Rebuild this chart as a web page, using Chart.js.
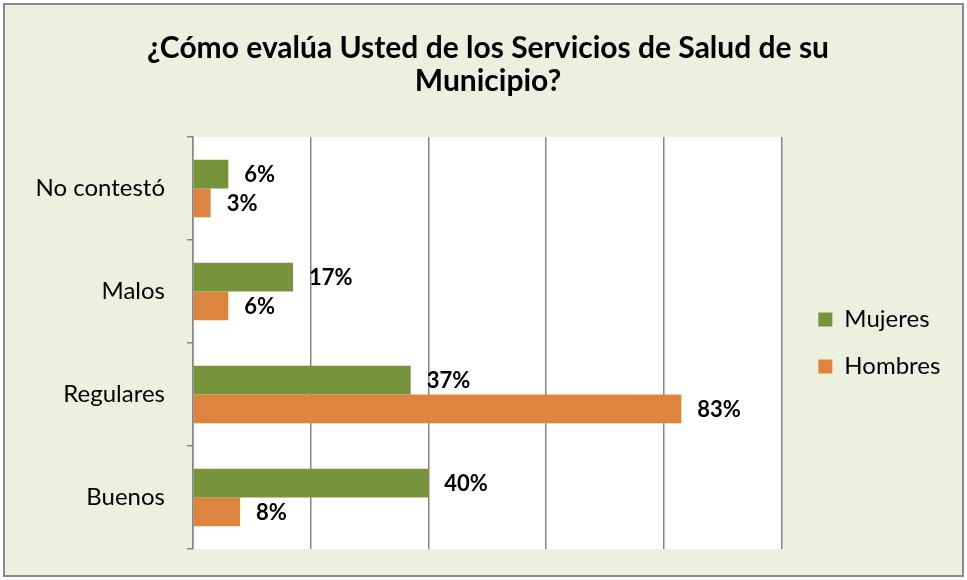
<!DOCTYPE html>
<html>
<head>
<meta charset="utf-8">
<script src="https://cdn.jsdelivr.net/npm/chart.js@4"></script>
<style>
  html, body { margin: 0; padding: 0; background: #fff; }
  #wrap { width: 967px; height: 580px; position: relative; }
</style>
</head>
<body>
<div id="wrap"><canvas id="theChart" width="967" height="580"></canvas></div>
<script>
const categories = ['No contestó', 'Malos', 'Regulares', 'Buenos'];
const mujeres = [6, 17, 37, 40];
const hombres = [3, 6, 83, 8];
const xTicks = [0, 20, 40, 60, 80, 100];

const fontName = 'Lato, "Open Sans", sans-serif';

// beige frame + white plot area
const frame = {
  id: 'frame',
  beforeDraw(chart) {
    const ctx = chart.ctx;
    const a = chart.chartArea;
    ctx.save();
    ctx.fillStyle = '#ffffff';
    ctx.fillRect(0, 0, chart.width, chart.height);
    ctx.fillStyle = '#EBF0DF';
    ctx.fillRect(4, 4, 959, 572);
    ctx.strokeStyle = '#8a8a8a';
    ctx.lineWidth = 2;
    ctx.strokeRect(4, 4, 959, 572);
    ctx.fillStyle = '#ffffff';
    ctx.fillRect(a.left, a.top, a.right - a.left, a.bottom - a.top);
    ctx.restore();
  }
};

// value labels next to the bar ends
const barLabels = {
  id: 'barLabels',
  afterDatasetsDraw(chart) {
    const ctx = chart.ctx;
    ctx.save();
    ctx.font = 'bold 22px ' + fontName;
    ctx.fillStyle = '#000';
    ctx.textAlign = 'left';
    ctx.textBaseline = 'middle';
    chart.data.datasets.forEach((ds, i) => {
      chart.getDatasetMeta(i).data.forEach((bar, j) => {
        ctx.fillText(ds.data[j] + '%', bar.x + 16, bar.y + 1);
      });
    });
    ctx.restore();
  }
};

const chart = document.getElementById('theChart').getContext('2d');
new Chart(chart, {
  type: 'bar',
  data: {
    labels: categories,
    datasets: [
      { label: 'Mujeres', data: mujeres, backgroundColor: '#77933C' },
      { label: 'Hombres', data: hombres, backgroundColor: '#DD843F' }
    ]
  },
  options: {
    indexAxis: 'y',
    responsive: false,
    animation: false,
    categoryPercentage: 0.56,
    barPercentage: 1.0,
    layout: { padding: { left: 27, right: 18, top: 0, bottom: 31 } },
    scales: {
      x: {
        min: 0,
        max: 100,
        afterBuildTicks: s => { s.ticks = xTicks.map(v => ({ value: v })); },
        ticks: { display: false },
        grid: { color: '#868686', lineWidth: 1.5, drawTicks: false },
        border: { display: false }
      },
      y: {
        afterFit: s => { s.width = 166; s.paddingTop = 0; s.paddingBottom = 0; },
        ticks: { color: '#000', padding: 22, font: { family: fontName, size: 24 } },
        grid: { drawOnChartArea: false, tickLength: 6, color: '#868686', lineWidth: 1.5 },
        border: { color: '#868686', width: 1.5 }
      },
      // empty gap between plot and legend
      gap: {
        type: 'linear',
        position: 'right',
        afterFit: s => { s.width = 14; s.paddingTop = 0; s.paddingBottom = 0; },
        ticks: { display: false },
        grid: { display: false },
        border: { display: false }
      }
    },
    plugins: {
      title: {
        display: true,
        text: ['¿Cómo evalúa Usted de los Servicios de Salud de su', 'Municipio?'],
        color: '#000',
        font: { family: fontName, size: 30, weight: 'bold', lineHeight: 1.1 },
        padding: { top: 32, bottom: 39 }
      },
      legend: {
        position: 'right',
        fullSize: false,
        labels: {
          color: '#000',
          boxWidth: 14,
          boxHeight: 14,
          padding: 23,
          font: { family: fontName, size: 24 }
        }
      },
      tooltip: { enabled: false }
    }
  },
  plugins: [frame, barLabels]
});
</script>
</body>
</html>
